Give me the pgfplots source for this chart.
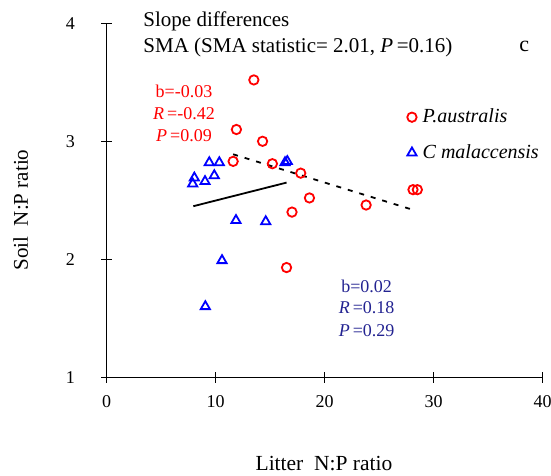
\documentclass[border=0pt]{standalone}
\usepackage{fontspec}
\setmainfont{Liberation Serif}
\usepackage{pgfplots}
\pgfplotsset{compat=1.18}
\definecolor{txtblue}{RGB}{35,35,145}
\begin{document}
\fontsize{18}{22}\selectfont
\begin{tikzpicture}
\useasboundingbox (0,0) rectangle (551pt,476pt);
\begin{axis}[
  at={(106.7pt,98.7pt)}, anchor=south west,
  width=436pt, height=354pt, scale only axis,
  xmin=0, xmax=40, ymin=1, ymax=4,
  axis lines=left, axis line style={-, line width=0.8pt},
  xtick={0,10,20,30,40}, ytick={1,2,3,4},
  tick align=center, major tick length=11pt,
  tick style={line width=0.8pt, black},
  /pgf/number format/assume math mode=true,
  tick label style={font=\fontsize{18}{22}\selectfont},
  xticklabel style={yshift=-7pt},
  yticklabel style={xshift=-20pt},
  clip=false,
  legend style={draw=none, fill=none, at={(0.682,0.77)}, anchor=north west,
    font=\fontsize{20}{24}\selectfont\itshape, row sep=15pt},
  legend cell align=left,
]
\addplot[only marks, mark=o, color=red, mark size=4.7pt, line width=1.8pt] coordinates {
(13.5,3.52) (11.9,3.10) (14.3,3.00) (11.6,2.83) (15.2,2.81) (17.8,2.73)
(18.6,2.52) (17.0,2.40) (23.8,2.46) (28.1,2.59) (28.5,2.59) (16.5,1.93)
};
\addlegendentry{\hspace{4pt}P.australis}
\addplot[only marks, mark=triangle, color=blue, mark size=5.3pt, line width=1.8pt] coordinates {
(9.41,2.82) (10.33,2.82) (8.04,2.69) (7.89,2.64) (9.02,2.66) (9.87,2.71)
(11.86,2.33) (14.59,2.32) (10.58,1.99) (9.05,1.60) (16.36,2.82) (16.57,2.83)
};
\addlegendentry{\hspace{4pt}C malaccensis}
\addplot[black, line width=1.8pt, forget plot] coordinates {(7.95,2.45) (16.5,2.65)};
\addplot[black, line width=1.8pt, dash pattern=on 5pt off 7pt, forget plot] coordinates {(11.6,2.89) (28.07,2.42)};
\node[anchor=west, font=\fontsize{21}{25}\selectfont] at (axis cs:2.8,4.013) {Slope differences};
\node[anchor=west, font=\fontsize{21}{25}\selectfont] at (axis cs:2.8,3.792) {SMA (SMA statistic= 2.01, \textit{P}\,=0.16)};
\node[font=\fontsize{22}{26}\selectfont] at (axis cs:38.3,3.80) {c};
\node[red] at (axis cs:7.09,3.42) {b=-0.03};
\node[red] at (axis cs:7.09,3.235) {\textit{R}\,=-0.42};
\node[red] at (axis cs:7.09,3.045) {\textit{P}\,=0.09};
\node[txtblue] at (axis cs:23.85,1.774) {b=0.02};
\node[txtblue] at (axis cs:23.85,1.59) {\textit{R}\,=0.18};
\node[txtblue] at (axis cs:23.85,1.395) {\textit{P}\,=0.29};
\end{axis}
\node[font=\fontsize{21.5}{25}\selectfont] at (324pt,12pt) {Litter\ \ N:P ratio};
\node[rotate=90, font=\fontsize{21}{25}\selectfont] at (20.7pt,266pt) {Soil\ \ N:P ratio};
\end{tikzpicture}
\end{document}
